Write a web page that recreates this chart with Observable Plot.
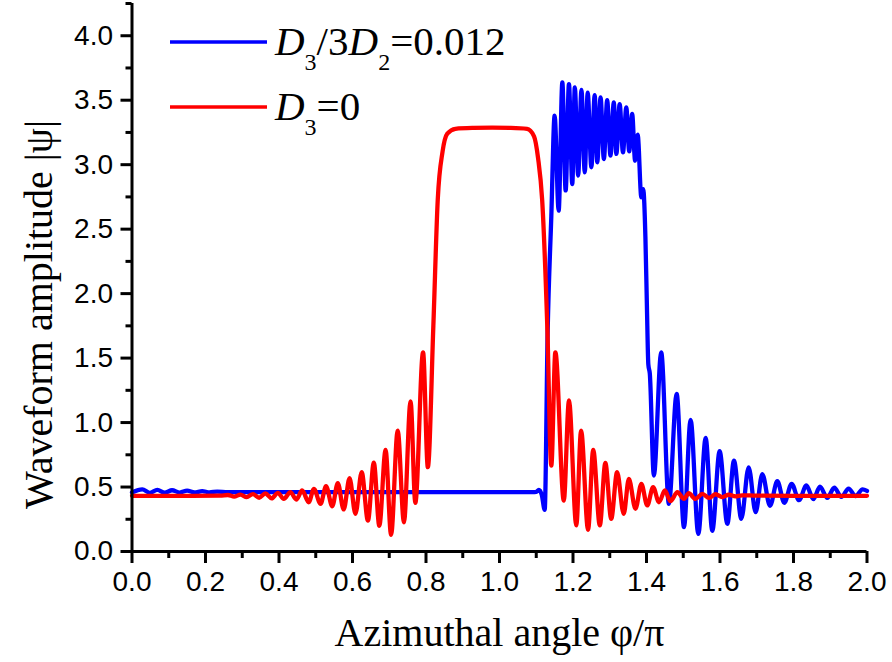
<!DOCTYPE html>
<html>
<head>
<meta charset="utf-8">
<script src="https://cdn.jsdelivr.net/npm/d3@7"></script>
<script src="https://cdn.jsdelivr.net/npm/@observablehq/plot@0.6"></script>
<style>
  html, body { margin: 0; padding: 0; background: white; }
</style>
</head>
<body>
<script>
// ---- data ----
const redPhi = [0, 0.08, 0.16, 0.24, 0.261, 0.278, 0.295, 0.312, 0.329, 0.346, 0.363, 0.380, 0.397, 0.413, 0.431, 0.447, 0.463, 0.481, 0.495, 0.513, 0.528, 0.545, 0.560, 0.576, 0.592, 0.608, 0.625, 0.642, 0.658, 0.673, 0.690, 0.705, 0.723, 0.740, 0.758, 0.771, 0.792, 0.805, 0.820, 0.832, 0.845, 0.858, 0.880, 0.93, 0.98, 1.03, 1.075, 1.094, 1.105, 1.116, 1.130, 1.141, 1.152, 1.175, 1.189, 1.209, 1.222, 1.241, 1.255, 1.273, 1.288, 1.304, 1.320, 1.338, 1.352, 1.370, 1.386, 1.402, 1.418, 1.434, 1.450, 1.465, 1.484, 1.502, 1.515, 1.533, 1.552, 1.570, 1.588, 1.606, 1.624, 1.642, 1.66, 1.70, 1.80, 1.90, 2.0];
const redAmp = [0.432, 0.432, 0.432, 0.433, 0.438, 0.426, 0.441, 0.422, 0.445, 0.417, 0.450, 0.412, 0.455, 0.408, 0.460, 0.403, 0.473, 0.382, 0.486, 0.370, 0.506, 0.351, 0.530, 0.326, 0.568, 0.292, 0.615, 0.240, 0.690, 0.199, 0.788, 0.129, 0.938, 0.227, 1.165, 0.377, 1.545, 0.654, 1.75, 2.73, 3.10, 3.24, 3.278, 3.285, 3.287, 3.285, 3.278, 3.22, 3.05, 2.73, 1.75, 0.667, 1.545, 0.395, 1.171, 0.202, 0.938, 0.168, 0.788, 0.202, 0.687, 0.253, 0.615, 0.292, 0.563, 0.331, 0.525, 0.357, 0.499, 0.382, 0.473, 0.390, 0.460, 0.408, 0.452, 0.408, 0.447, 0.416, 0.444, 0.422, 0.440, 0.428, 0.436, 0.433, 0.432, 0.432, 0.432];

const bluePhi = [0, 0.028, 0.048, 0.069, 0.089, 0.109, 0.130, 0.150, 0.170, 0.191, 0.211, 0.232, 0.26, 0.4, 0.6, 0.8, 1.0, 1.09, 1.100, 1.107, 1.115, 1.123, 1.131, 1.141, 1.150, 1.161, 1.171, 1.180, 1.189, 1.198, 1.205, 1.214, 1.223, 1.232, 1.240, 1.250, 1.259, 1.266, 1.275, 1.284, 1.293, 1.302, 1.311, 1.318, 1.327, 1.336, 1.345, 1.353, 1.361, 1.369, 1.376, 1.386, 1.391, 1.397, 1.401, 1.405, 1.409, 1.420, 1.440, 1.461, 1.482, 1.502, 1.520, 1.541, 1.561, 1.579, 1.599, 1.620, 1.638, 1.658, 1.678, 1.697, 1.715, 1.736, 1.756, 1.775, 1.795, 1.815, 1.835, 1.854, 1.872, 1.892, 1.911, 1.930, 1.950, 1.969, 1.988, 2.0];
const blueAmp = [0.458, 0.482, 0.455, 0.478, 0.456, 0.475, 0.457, 0.472, 0.458, 0.468, 0.459, 0.465, 0.46, 0.46, 0.46, 0.46, 0.46, 0.46, 0.462, 0.478, 0.44, 0.323, 1.7, 2.6, 3.38, 2.643, 3.638, 2.80, 3.625, 2.85, 3.60, 2.915, 3.579, 2.94, 3.558, 2.98, 3.54, 3.018, 3.522, 3.044, 3.50, 3.07, 3.483, 3.083, 3.47, 3.095, 3.444, 3.103, 3.393, 3.031, 3.233, 2.746, 2.81, 2.44, 1.92, 1.45, 1.38, 0.589, 1.545, 0.37, 1.222, 0.189, 1.021, 0.137, 0.881, 0.160, 0.778, 0.215, 0.705, 0.253, 0.653, 0.305, 0.60, 0.355, 0.545, 0.378, 0.525, 0.398, 0.512, 0.406, 0.502, 0.416, 0.495, 0.423, 0.488, 0.43, 0.482, 0.47];

const xMajorTicks = [0, 0.2, 0.4, 0.6, 0.8, 1.0, 1.2, 1.4, 1.6, 1.8, 2.0];
const xTickLabels = ["0.0", "0.2", "0.4", "0.6", "0.8", "1.0", "1.2", "1.4", "1.6", "1.8", "2.0"];
const xMinorTicks = [0.1, 0.3, 0.5, 0.7, 0.9, 1.1, 1.3, 1.5, 1.7, 1.9];
const yMajorTicks = [0, 0.5, 1.0, 1.5, 2.0, 2.5, 3.0, 3.5, 4.0];
const yTickLabels = ["0.0", "0.5", "1.0", "1.5", "2.0", "2.5", "3.0", "3.5", "4.0"];
const yMinorTicks = [0.25, 0.75, 1.25, 1.75, 2.25, 2.75, 3.25, 3.75, 4.25];

const xTitle = "Azimuthal angle φ/π";
const yTitle = "Waveform amplitude |ψ|";

// ---- build tables ----
const red = redPhi.map((p, i) => ({phi: p, amp: redAmp[i]}));
const blue = bluePhi.map((p, i) => ({phi: p, amp: blueAmp[i]}));

const serif = "'Liberation Serif', 'Times New Roman', serif";
const sans = "'Liberation Sans', Arial, sans-serif";

const plot = Plot.plot({
  width: 892,
  height: 662,
  marginLeft: 131.5,
  marginRight: 25.5,
  marginTop: 3,
  marginBottom: 111,
  style: {background: "white", color: "black", fontFamily: sans, fontSize: "28px"},
  x: {domain: [0, 2]},
  y: {domain: [0, 4.25]},
  marks: [
    Plot.line(blue, {x: "phi", y: "amp", stroke: "#0000ff", strokeWidth: 4.3, curve: "monotone-x"}),
    Plot.line(red, {x: "phi", y: "amp", stroke: "#ff0000", strokeWidth: 4.3, curve: "monotone-x"}),
    Plot.axisX({ticks: xMajorTicks, tickSize: 12, tickPadding: 8, strokeWidth: 3, label: null,
      tickFormat: d => xTickLabels[xMajorTicks.indexOf(d)], fontSize: 28}),
    Plot.axisX({ticks: xMinorTicks, tickSize: 7, strokeWidth: 3, text: null, label: null}),
    Plot.axisY({ticks: yMajorTicks, tickSize: 11, tickPadding: 8, strokeWidth: 3, label: null,
      tickFormat: d => yTickLabels[yMajorTicks.indexOf(d)], fontSize: 28}),
    Plot.axisY({ticks: yMinorTicks, tickSize: 6, strokeWidth: 3, text: null, label: null}),
    Plot.ruleY([0], {strokeWidth: 3}),
    Plot.ruleX([0], {strokeWidth: 3}),
    Plot.text([xTitle], {frameAnchor: "bottom", dy: 82, fontFamily: serif, fontSize: 40, textAnchor: "middle", lineAnchor: "middle"}),
    Plot.text([yTitle], {frameAnchor: "left", dx: -93, dy: 37, rotate: -90, fontFamily: serif, fontSize: 40, textAnchor: "middle", lineAnchor: "middle"})
  ]
});

document.body.appendChild(plot);

// ---- legend (inside the frame, top-left) ----
const svg = d3.select(plot);
const lg = svg.append("g").attr("font-family", serif).attr("text-anchor", "start");
const entries = [
  {color: "#0000ff", y: 42, parts: [["D", true, 0], ["3", false, 1], ["/3", false, 0], ["D", true, 0], ["2", false, 1], ["=0.012", false, 0]]},
  {color: "#ff0000", y: 107, parts: [["D", true, 0], ["3", false, 1], ["=0", false, 0]]}
];
entries.forEach(e => {
  lg.append("line").attr("x1", 170).attr("x2", 267).attr("y1", e.y).attr("y2", e.y)
    .attr("stroke", e.color).attr("stroke-width", 3.5);
  const t = lg.append("text").attr("x", 275).attr("y", e.y + 13).attr("font-size", 41)
    .attr("fill", "black").attr("text-anchor", "start");
  let prev = 0;
  e.parts.forEach(([s, ital, sub]) => {
    const ts = t.append("tspan").text(s);
    if (ital) ts.attr("font-style", "italic");
    const shift = sub ? 15 : 0;
    ts.attr("dy", shift - prev);
    if (sub) ts.attr("font-size", 24);
    prev = shift;
  });
});
</script>
</body>
</html>
